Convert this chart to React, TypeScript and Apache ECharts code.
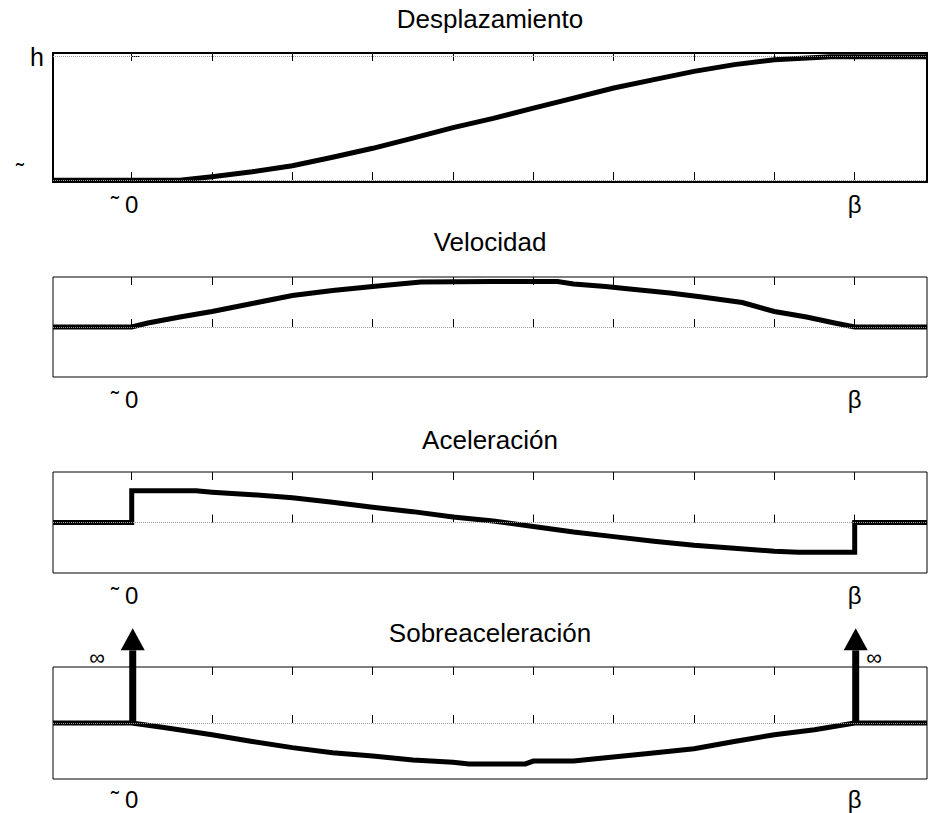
import React, { useEffect, useRef } from 'react';
import * as echarts from 'echarts';

// ---------- data ----------
const X_MIN = -9.8;
const X_MAX = 99;
const X_TICKS = [0, 10, 20, 30, 40, 50, 60, 70, 80, 90];
const X_LABEL_VALUES = [0, 90];
const X_LABEL_TEXT = ['0', 'β'];
const TITLES = ['Desplazamiento', 'Velocidad', 'Aceleración', 'Sobreaceleración'];

const DISP_X = [-9.8, 0, 6, 10, 15, 20, 25, 30, 35, 40, 45, 50, 55, 60, 65, 70, 75, 80, 87, 90, 99];
const DISP_Y = [0, 0, 0, 0.027, 0.068, 0.117, 0.185, 0.258, 0.34, 0.426, 0.5, 0.583, 0.665, 0.746, 0.814, 0.881, 0.936, 0.976, 1.0, 1.0, 1.0];

const VEL_X = [-9.8, 0, 2, 6, 10, 15, 20, 25, 30, 36, 45, 53, 55, 59, 62, 67, 71, 76, 80, 84, 87.5, 90, 99];
const VEL_Y = [0, 0, 0.08, 0.2, 0.31, 0.47, 0.63, 0.73, 0.81, 0.9, 0.91, 0.91, 0.86, 0.81, 0.76, 0.68, 0.6, 0.49, 0.31, 0.2, 0.08, 0, 0];

const ACC_X = [-9.8, 0, 0, 8, 10, 15, 20, 25, 30, 35, 40, 45, 50, 55, 60, 65, 70, 75, 80, 83, 90, 90, 99];
const ACC_Y = [0, 0, 0.627, 0.627, 0.6, 0.55, 0.49, 0.4, 0.3, 0.215, 0.11, 0.03, -0.08, -0.19, -0.28, -0.37, -0.45, -0.51, -0.57, -0.59, -0.59, 0, 0];

const JERK_X = [-9.8, 0, 4, 10, 15, 20, 25, 30, 35, 40, 42, 49, 50, 55, 59, 64, 70, 75, 80, 85, 90, 99];
const JERK_Y = [0, 0, -0.08, -0.21, -0.33, -0.44, -0.53, -0.59, -0.66, -0.7, -0.73, -0.73, -0.68, -0.68, -0.62, -0.55, -0.46, -0.33, -0.21, -0.12, 0, 0];

const ARROW_X = [0, 90];
const ARROW_TOP = 1.69;

const Y_RANGES = [
  [-0.015, 1.03],
  [-1, 1],
  [-1, 1],
  [-1, 1],
];

// ---------- layout ----------
const FONT = '"Liberation Sans", Arial, Helvetica, sans-serif';
const GRID_LEFT = 53;
const GRID_WIDTH = 874;
const GRIDS = [
  { top: 53, height: 129, border: 2, labelMargin: 10 },
  { top: 277, height: 100, border: 1, labelMargin: 10 },
  { top: 472, height: 101, border: 1, labelMargin: 10 },
  { top: 667, height: 112, border: 1, labelMargin: 8 },
];
const TITLE_TOP = [6, 229, 427, 620];

const pairs = (xs: number[], ys: number[]) => xs.map((x, i) => [x, ys[i]]);

export default function App() {
  const ref = useRef<HTMLDivElement>(null);

  useEffect(() => {
    if (!ref.current) return;
    const chart = echarts.init(ref.current, undefined, { renderer: 'svg' });

    const grid = GRIDS.map((g) => ({
      left: GRID_LEFT,
      width: GRID_WIDTH,
      top: g.top,
      height: g.height,
      show: true,
      borderColor: '#000',
      borderWidth: g.border,
      backgroundColor: 'transparent',
      outerBoundsMode: 'none',
    }));

    const xAxis: any[] = [];
    GRIDS.forEach((g, i) => {
      xAxis.push({
        type: 'value',
        gridIndex: i,
        min: X_MIN,
        max: X_MAX,
        position: 'bottom',
        axisLine: { show: false },
        splitLine: { show: false },
        axisTick: {
          show: true,
          inside: true,
          length: 8,
          customValues: X_TICKS,
          lineStyle: { color: '#000', width: 1 },
        },
        axisLabel: {
          show: true,
          customValues: X_LABEL_VALUES,
          margin: g.labelMargin,
          color: '#000',
          fontFamily: FONT,
          fontSize: 24,
          formatter: (v: number) => {
            const idx = X_LABEL_VALUES.indexOf(v);
            if (idx < 0) return '';
            if (v === 0) return '{t|˜}{n|' + X_LABEL_TEXT[idx] + '}{p|}';
            return '{n|' + X_LABEL_TEXT[idx] + '}';
          },
          rich: {
            t: { fontSize: 24, fontFamily: FONT, color: '#000', width: 14, align: 'left', verticalAlign: 'top' },
            n: { fontSize: 24, fontFamily: FONT, color: '#000' },
            p: { width: 14 },
          },
        },
      });
      xAxis.push({
        type: 'value',
        gridIndex: i,
        min: X_MIN,
        max: X_MAX,
        position: 'top',
        axisLine: { show: false },
        splitLine: { show: false },
        axisTick: {
          show: true,
          inside: true,
          length: 8,
          customValues: X_TICKS,
          lineStyle: { color: '#000', width: 1 },
        },
        axisLabel: { show: false },
      });
    });

    const yAxis = GRIDS.map((_, i) => ({
      type: 'value',
      gridIndex: i,
      min: Y_RANGES[i][0],
      max: Y_RANGES[i][1],
      axisLine: { show: false },
      splitLine: { show: false },
      axisTick:
        i === 0
          ? { show: true, inside: true, length: 8, customValues: [0, 1], lineStyle: { color: '#000', width: 1 } }
          : { show: false },
      axisLabel:
        i === 0
          ? {
              show: true,
              customValues: [1],
              formatter: () => 'h',
              margin: 9,
              color: '#000',
              fontFamily: FONT,
              fontSize: 25,
            }
          : { show: false },
    }));

    const curves = [
      pairs(DISP_X, DISP_Y),
      pairs(VEL_X, VEL_Y),
      pairs(ACC_X, ACC_Y),
      pairs(JERK_X, JERK_Y),
    ];

    const series: any[] = [];
    curves.forEach((data, i) => {
      series.push({
        type: 'line',
        xAxisIndex: 2 * i,
        yAxisIndex: i,
        data: [],
        z: 1,
        silent: true,
        markLine: {
          silent: true,
          symbol: 'none',
          label: { show: false },
          lineStyle: { color: '#999', type: 'dotted', width: 1 },
          data: i === 0 ? [{ yAxis: 0 }, { yAxis: 1 }] : [{ yAxis: 0 }],
        },
      });
      series.push({
        type: 'line',
        name: TITLES[i],
        xAxisIndex: 2 * i,
        yAxisIndex: i,
        data,
        showSymbol: false,
        symbol: 'none',
        z: 3,
        lineStyle: { color: '#000', width: 5, join: 'miter' },
      });
    });

    series.push({
      type: 'custom',
      xAxisIndex: 6,
      yAxisIndex: 3,
      clip: false,
      z: 4,
      data: ARROW_X.map((x) => [x, ARROW_TOP]),
      renderItem: (_params: any, api: any) => {
        const x = api.value(0);
        const top = api.value(1);
        const b = api.coord([x, 0]);
        const t = api.coord([x, top]);
        const hh = 22;
        const hw = 24;
        const cx = t[0] + 1;
        return {
          type: 'group',
          children: [
            {
              type: 'line',
              shape: { x1: cx, y1: b[1] + 2, x2: cx, y2: t[1] + hh },
              style: { stroke: '#000', lineWidth: 7 },
            },
            {
              type: 'polygon',
              shape: { points: [[cx, t[1]], [cx - hw / 2, t[1] + hh], [cx + hw / 2, t[1] + hh]] },
              style: { fill: '#000' },
            },
          ],
        };
      },
    });

    const smallText = (x: number, y: number, text: string, size: number) => ({
      type: 'text',
      x,
      y,
      style: { text, fontSize: size, fontFamily: FONT, fill: '#000', align: 'center', verticalAlign: 'middle' },
    });

    const option: any = {
      animation: false,
      backgroundColor: '#fff',
      title: TITLES.map((t, i) => ({
        text: t,
        left: GRID_LEFT + GRID_WIDTH / 2,
        top: TITLE_TOP[i],
        textAlign: 'center',
        padding: 0,
        textStyle: { fontSize: 26, fontWeight: 'normal', color: '#000', fontFamily: FONT },
      })),
      grid,
      xAxis,
      yAxis,
      series,
      graphic: [
        smallText(97, 657, '∞', 22),
        smallText(874, 657, '∞', 22),
        smallText(20, 171, '˜', 24),
      ],
    };

    chart.setOption(option);
    return () => chart.dispose();
  }, []);

  return (
    <div
      ref={ref}
      style={{ position: 'absolute', left: 0, top: 0, width: 929, height: 813, background: '#fff' }}
    />
  );
}
